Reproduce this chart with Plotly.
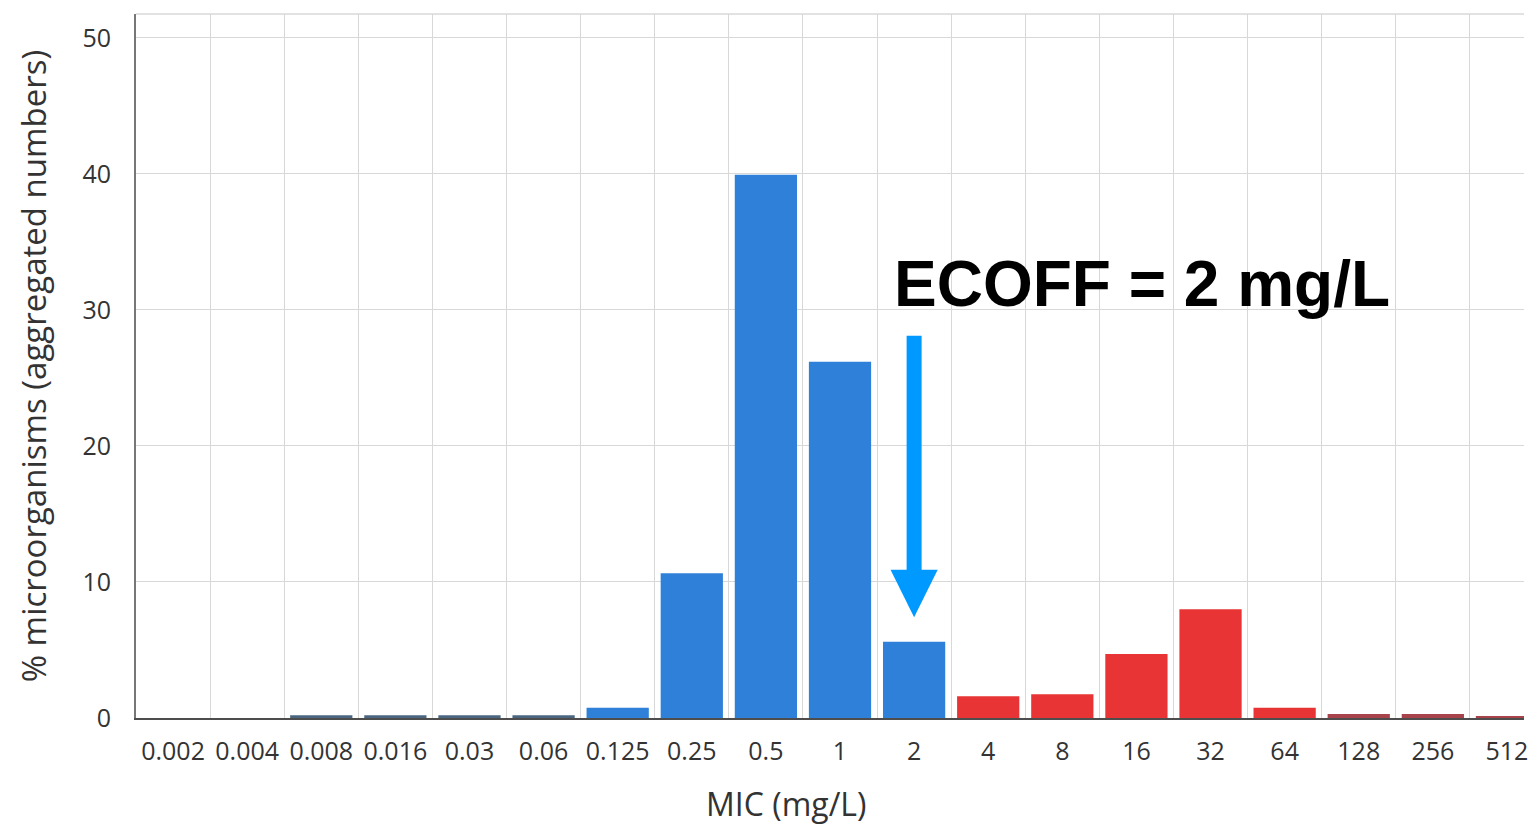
import plotly.graph_objects as go

mic_labels = ["0.002", "0.004", "0.008", "0.016", "0.03", "0.06", "0.125", "0.25",
              "0.5", "1", "2", "4", "8", "16", "32", "64", "128", "256", "512"]
percent_values = [0, 0, 0.2, 0.2, 0.2, 0.2, 0.75, 10.65, 39.95, 26.2, 5.6,
                  1.6, 1.75, 4.7, 8.0, 0.75, 0.3, 0.3, 0.15]
ecoff_label = "2"
y_ticks = [0, 10, 20, 30, 40, 50]

BLUE = "#2F80D8"
RED = "#E83434"
BLUE_DARK = "#4A6680"
RED_DARK = "#A8434C"
ARROW = "#0099FF"

ecoff_idx = mic_labels.index(ecoff_label)
colors = []
for i, v in enumerate(percent_values):
    wild = i <= ecoff_idx
    if v < 0.5:
        colors.append(BLUE_DARK if wild else RED_DARK)
    else:
        colors.append(BLUE if wild else RED)

fig = go.Figure()
fig.add_trace(go.Bar(
    x=mic_labels, y=percent_values,
    marker=dict(color=colors, line=dict(width=0)),
    width=0.84, showlegend=False, hoverinfo="x+y",
))

tick_font = dict(family="Open Sans", size=25, color="#333333")
title_font = dict(family="Open Sans", size=32, color="#333333")

fig.update_layout(
    width=1528, height=827,
    margin=dict(l=136, r=0, t=14, b=109),
    paper_bgcolor="white", plot_bgcolor="white",
    bargap=0.16,
    xaxis=dict(
        type="category",
        categoryorder="array", categoryarray=mic_labels,
        range=[-0.5, 18.23],
        tickson="boundaries",
        showgrid=True, gridcolor="#D8D8D8", gridwidth=1,
        showline=True, linecolor="#4D4D4D", linewidth=2,
        ticks="", tickfont=tick_font,
        ticklabelstandoff=10,
        zeroline=False,
    ),
    yaxis=dict(
        range=[0, 51.76],
        tickvals=y_ticks,
        showgrid=True, gridcolor="#D8D8D8", gridwidth=1,
        showline=True, linecolor="#777777", linewidth=2,
        ticks="", tickfont=tick_font,
        ticklabelstandoff=18,
        title=dict(text="% microorganisms (aggregated numbers)",
                   font=dict(family="Open Sans", size=33, color="#333333"), standoff=26),
        zeroline=False,
    ),
)

# x-axis title
fig.add_annotation(
    text="MIC (mg/L)", xref="paper", yref="paper", x=0.469, y=-0.1215,
    xanchor="center", yanchor="middle", showarrow=False, font=title_font,
)

# top border line of plot area
fig.add_shape(type="line", xref="paper", yref="paper", x0=0, x1=1, y0=1, y1=1,
              line=dict(color="#D8D8D8", width=1.5), layer="below")

# ECOFF arrow (shaft + head)
shaft_top, head_base, head_tip = 28.1, 10.9, 7.4
fig.add_shape(type="line", xref="x", yref="y",
              x0=ecoff_idx, x1=ecoff_idx, y0=shaft_top, y1=head_base - 0.2,
              line=dict(color=ARROW, width=15))
hw = 0.318
fig.add_shape(type="path", xref="x", yref="y",
              path=f"M {ecoff_idx - hw},{head_base} L {ecoff_idx + hw},{head_base} L {ecoff_idx},{head_tip} Z",
              fillcolor=ARROW, line=dict(width=0))

fig.add_annotation(
    text="<b>ECOFF = 2 mg/L</b>",
    xref="x", yref="y", x=ecoff_idx - 0.3, y=31.9,
    xanchor="left", yanchor="middle", showarrow=False,
    font=dict(family="Liberation Sans, Arial", size=64, color="black"),
)

fig.write_html("out.html")
